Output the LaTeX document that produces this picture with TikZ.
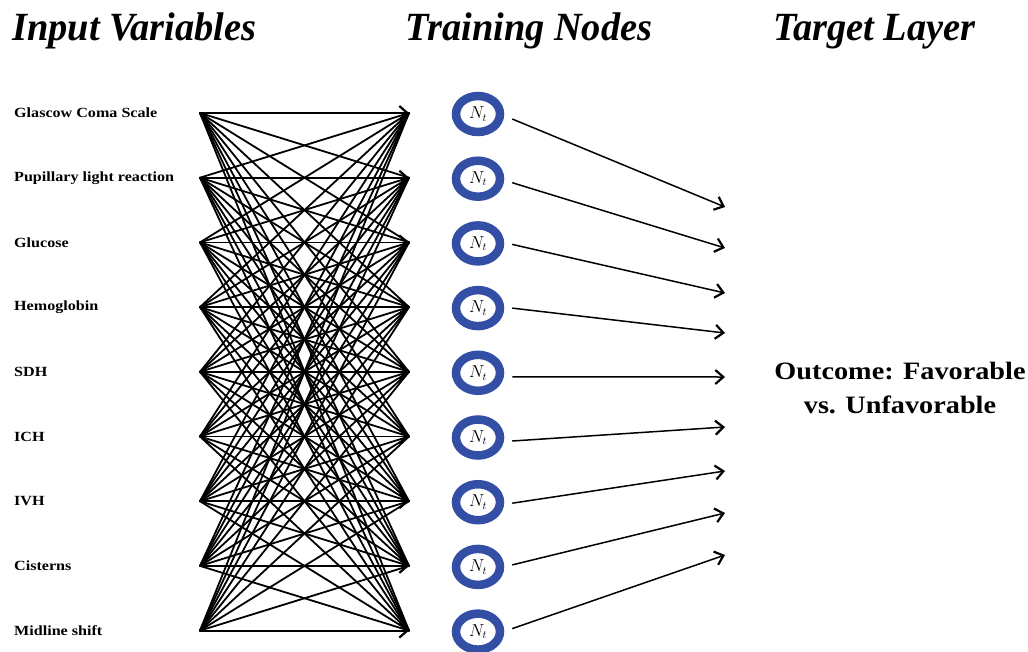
\documentclass[tikz,border=0pt]{standalone}
\usepackage{fontspec}
\setmainfont{Liberation Serif}
\usetikzlibrary{arrows.meta,calc,shapes.geometric}
\definecolor{ringblue}{RGB}{50,78,165}
\begin{document}
\begin{tikzpicture}[x=1pt,y=-1pt,
  title/.style={anchor=base west,inner sep=0pt,font=\fontsize{40}{42}\selectfont\bfseries\itshape},
  varlabel/.style={anchor=west,inner sep=0pt,font=\fontsize{14}{15}\selectfont\bfseries},
  neuron/.style={ellipse,draw=ringblue,line width=8.5pt,fill=white,minimum width=44pt,
    minimum height=36pt,inner sep=0pt,font=\fontsize{16}{18}\selectfont},
  outcome/.style={align=center,inner sep=0pt,font=\fontsize{25}{34}\selectfont\bfseries},
  link/.style={line width=1.8pt,line cap=round},
  barb/.style={-{Straight Barb[length=8pt,width=14pt,line width=2.2pt]}},
  headlink/.style={link,barb},
  outarrow/.style={line width=1.5pt,barb}
]
\useasboundingbox (0,0) rectangle (1028,651);

% column headings
\node[title] (hin)  at (12,40)  {\scalebox{0.96}[1]{Input Variables}};
\node[title] (htr)  at (405,40) {\scalebox{0.96}[1]{Training Nodes}};
\node[title] (htg)  at (773,40) {\scalebox{0.96}[1]{Target Layer}};

% input variables with their fan-out anchors
\foreach \lab [count=\i] in {Glascow Coma Scale,Pupillary light reaction,Glucose,Hemoglobin,SDH,ICH,IVH,Cisterns,Midline shift}{
  \pgfmathsetmacro{\yy}{113+64.7*(\i-1)}
  \node[varlabel] (v\i) at (14,\yy) {\scalebox{1.15}[1]{\lab}};
  \coordinate (a\i) at (200,\yy);
  \coordinate (b\i) at (409,\yy);
}

% fully connected links between the two columns
\foreach \i in {1,...,9}{
  \foreach \j in {1,...,9}{
    \ifnum\i=\j
      \draw[headlink] (a\i) -- (b\j);
    \else
      \draw[link] (a\i) -- (b\j);
    \fi
  }
}

% training nodes
\foreach \i in {1,...,9}{
  \pgfmathsetmacro{\yy}{114+64.7*(\i-1)}
  \node[neuron] (n\i) at (478,\yy) {$N_t$};
}

% target layer arrow ends
\foreach \ty [count=\i] in {207,248,293,333,377,427,471,513,555}{
  \coordinate (t\i) at (725,\ty);
}

% arrows from training nodes to the target layer
\foreach \dy [count=\i] in {5,4,1,0,4,3.5,1,-2,-3}{
  \draw[outarrow] ($(n\i.east)+(8,\dy)$) -- (t\i);
}

% outcome
\node[outcome] (out) at (900,388)
  {\scalebox{1.13}[1]{Outcome: Favorable}\\\scalebox{1.13}[1]{vs. Unfavorable}};
\end{tikzpicture}
\end{document}
